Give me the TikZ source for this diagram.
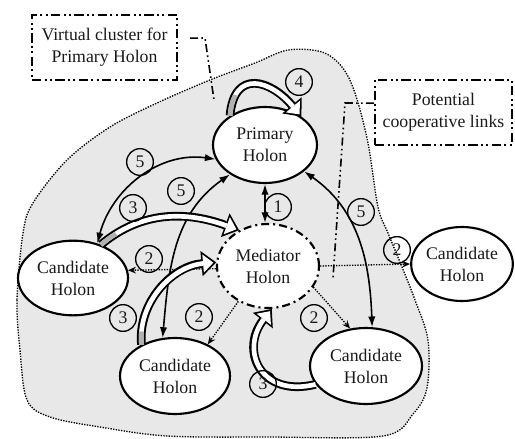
\documentclass[tikz,border=0pt]{standalone}
\usepackage{fontspec}
\setmainfont{Liberation Serif}
\usetikzlibrary{shapes.geometric,arrows.meta,calc}
\newcommand\hblockarrow[3]{%
  \draw[blockout] #1;
  \draw[blockin] #1;
  \begin{scope}
    \clip #2 circle (#3);
    \draw[blockgray] #1;
  \end{scope}
}
\begin{document}
\begin{tikzpicture}[x=0.75pt,y=-0.75pt,
  every node/.style={font=\fontsize{13.3}{16.5}\selectfont, text=black!90},
  holon/.style={ellipse, draw, line width=1.6pt, fill=white, inner sep=0pt, align=center},
  mediator/.style={holon, dash pattern=on 6pt off 3pt on 1.5pt off 3pt},
  numlabel/.style={circle, draw, line width=1pt, inner sep=0pt, minimum size=20pt},
  callout/.style={draw, line width=1.5pt, dash pattern=on 7pt off 2.5pt on 1.5pt off 2.5pt on 1.5pt off 2.5pt, align=center, inner sep=0pt},
  leader/.style={line width=1.2pt, dash pattern=on 6pt off 2.5pt on 1.2pt off 2.5pt on 1.2pt off 2.5pt},
  link/.style={line width=1.2pt, {Latex[length=8pt,width=5.5pt]}-{Latex[length=8pt,width=5.5pt]}},
  dlink/.style={line width=1pt, densely dotted, -{Stealth[length=6pt,width=5pt]}},
  blobline/.style={densely dotted, line width=1pt, fill=black!9},
  blockout/.style={line width=6.5pt, draw=black, -{Triangle[length=11pt,width=19pt,line width=0pt]}},
  blockin/.style={line width=3.5pt, draw=white, shorten >=2.1pt, -{Triangle[length=7.7pt,width=13.6pt,line width=0pt]}},
  blockgray/.style={line width=3.5pt, draw=black!30}
]
\useasboundingbox (0,0) rectangle (515,439);

% virtual cluster region
\draw[blobline] plot[smooth cycle, tension=0.55] coordinates {(23,233) (17,300) (20,350) (27,400) (50,417) (100,427) (167,436) (267,437) (383,436) (413,414) (427,388) (428,340) (415,300) (402,267) (388,233) (378,207) (368,143) (355,93) (342,67) (322,52) (288,50) (255,63) (210,80) (157,103) (110,127) (67,160) (33,203)};

% callouts
\node[callout, minimum width=108.75pt, minimum height=48.75pt] (VB) at (104.5,47.5) {Virtual cluster for\\Primary Holon};
\node[callout, minimum width=102.75pt, minimum height=48.75pt] (PB) at (443.5,112.5) {Potential\\cooperative links};
\coordinate (v1) at (205,38);
\coordinate (v2) at (214,100);
\draw[leader] ([yshift=7pt,xshift=9pt]VB.east) -- (v1) -- (v2);
\coordinate (p1) at (345,103);
\coordinate (p2) at (333,278);
\draw[leader] ([yshift=7pt]PB.west) -- (p1) -- (p2);

% holons
\node[holon, minimum width=78pt, minimum height=57pt] (P) at (265,145) {Primary\\Holon};
\node[mediator, minimum width=76.5pt, minimum height=63pt] (M) at (268,266) {Mediator\\Holon};
\node[holon, minimum width=82.5pt, minimum height=56pt] (CL) at (73,278) {Candidate\\Holon};
\node[holon, minimum width=82.5pt, minimum height=57pt] (CB) at (175,376) {Candidate\\Holon};
\node[holon, minimum width=84pt, minimum height=57pt] (CR) at (366,366) {Candidate\\Holon};
\node[holon, minimum width=72pt, minimum height=55.5pt] (CF) at (462,264) {Candidate\\Holon};

% links 1 and 5
\draw[link] (P.south) -- (P.south |- M.north);
\draw[link] (CL.55) to[out=75,in=172] (P.196);
\draw[link] (CB.108) to[out=85,in=215] (P.220);
\draw[link] (P.326) to[out=-35,in=92] (CR.81);

% links 2
\draw[dlink] (M.183) -- (CL.8);
\draw[dlink] (M.230) -- (CB.44);
\draw[dlink] (M.335) -- (CR.113);
\draw[dlink] (M.east) -- (CF.west);

% block arrows 3 and 4
\hblockarrow{(P.140) to[out=85,in=130,looseness=1.7] (P.38)}{(P.140)}{16pt}
\hblockarrow{(CL.50) to[out=40,in=160] (M.129)}{(CL.50)}{14pt}
\hblockarrow{(CB.137) to[out=95,in=185] (M.176)}{(CB.137)}{10pt}
\draw[blockout] (CR.200) .. controls (260,398) and (240,350) .. (M.275);
\draw[blockin] (CR.200) .. controls (260,398) and (240,350) .. (M.275);

% numbered labels
\node[numlabel] (n1) at (278,207) {1};
\node[numlabel] (n4) at (299,82) {4};
\node[numlabel] (n5a) at (140,162) {5};
\node[numlabel] (n5b) at (181,191) {5};
\node[numlabel] (n5c) at (361,212) {5};
\node[numlabel] (n3a) at (133,208) {3};
\node[numlabel] (n3b) at (123,318) {3};
\node[numlabel] (n3c) at (263,384) {3};
\node[numlabel] (n2a) at (149,259) {2};
\node[numlabel] (n2b) at (199,317) {2};
\node[numlabel] (n2c) at (314,318) {2};
\node[numlabel] (n2d) at (397,250) {2};
\end{tikzpicture}
\end{document}
